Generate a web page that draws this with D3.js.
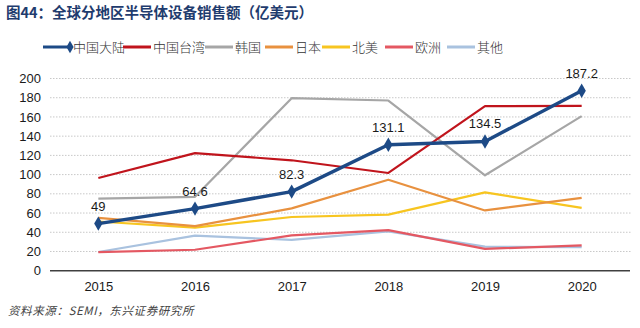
<!DOCTYPE html>
<html>
<head>
<meta charset="utf-8">
<script src="https://cdn.jsdelivr.net/npm/d3@7"></script>
<style>
  body { margin: 0; background: #fff; }
  text { font-family: Arial, "Liberation Sans", "Noto Sans CJK SC", sans-serif; }
</style>
</head>
<body>
<svg id="chart" width="640" height="328"></svg>
<script>
// data (亿美元)
const years = ['2015', '2016', '2017', '2018', '2019', '2020'];
const mainland = [49, 64.6, 82.3, 131.1, 134.5, 187.2];
const taiwan = [96.5, 122.3, 114.9, 101.7, 171.2, 171.5];
const korea = [75, 76.9, 179.5, 177.1, 99.3, 160.8];
const japan = [54.9, 46.3, 64.9, 94.7, 62.7, 75.8];
const northAmerica = [51.2, 44.9, 55.9, 58.3, 81.5, 65.3];
const europe = [19.4, 21.8, 36.7, 42.2, 22.7, 26.4];
const others = [19.5, 36.5, 32, 41, 25, 24.5];
const yTicks = [0, 20, 40, 60, 80, 100, 120, 140, 160, 180, 200];

const series = [
  { name: '中国大陆', values: mainland, color: '#1d4a86', width: 3.5, marker: true },
  { name: '中国台湾', values: taiwan, color: '#c0141c', width: 2.2 },
  { name: '韩国', values: korea, color: '#a6a6a6', width: 2.2 },
  { name: '日本', values: japan, color: '#e8913f', width: 2.2 },
  { name: '北美', values: northAmerica, color: '#f7c520', width: 2.2 },
  { name: '欧洲', values: europe, color: '#e45862', width: 2.2 },
  { name: '其他', values: others, color: '#a9c2df', width: 2.2 }
];

const svg = d3.select('#chart');
const margin = { left: 50, right: 10, top: 78.5, bottom: 57.3 };
const width = 640, height = 328;

const x = d3.scalePoint().domain(years)
  .range([margin.left, width - margin.right]).padding(0.5);
const y = d3.scaleLinear().domain([0, 200])
  .range([height - margin.bottom, margin.top]);

// title
svg.append('text')
  .attr('x', 6).attr('y', 18)
  .attr('font-size', 14.5).attr('font-weight', 'bold')
  .attr('fill', '#1f3c6e')
  .style('font-family', '"Noto Sans CJK SC", sans-serif')
  .text('图44：全球分地区半导体设备销售额（亿美元）');

// gridlines
svg.append('g')
  .selectAll('line')
  .data(yTicks.filter(d => d > 0))
  .join('line')
  .attr('x1', margin.left).attr('x2', width - margin.right + 1)
  .attr('y1', d => y(d)).attr('y2', d => y(d))
  .attr('stroke', '#c8c8c8').attr('stroke-width', 1)
  .attr('stroke-dasharray', '1.5,1.5');

// y axis labels
const yAxis = svg.append('g')
  .attr('transform', `translate(${margin.left - 9},0)`)
  .call(d3.axisLeft(y).tickValues(yTicks).tickSize(0).tickPadding(0));
yAxis.select('.domain').remove();
yAxis.selectAll('text').attr('font-size', 13).attr('fill', '#1a1a1a')
  .style('font-family', 'Arial, "Liberation Sans", sans-serif');

// x axis
const xAxis = svg.append('g')
  .attr('transform', `translate(0,${y(0)})`)
  .call(d3.axisBottom(x).tickSize(0).tickPadding(11));
xAxis.select('.domain').attr('stroke', '#404040').attr('stroke-width', 1.5)
  .attr('d', `M${margin.left},0H${width - margin.right}`);
xAxis.selectAll('text').attr('font-size', 13).attr('fill', '#1a1a1a')
  .style('font-family', 'Arial, "Liberation Sans", sans-serif');

// lines (draw from back to front so 中国大陆 sits on top)
const line = d3.line().x((d, i) => x(years[i])).y(d => y(d));
series.slice().reverse().forEach(s => {
  svg.append('path')
    .datum(s.values)
    .attr('fill', 'none')
    .attr('stroke', s.color)
    .attr('stroke-width', s.width)
    .attr('stroke-linejoin', 'round')
    .attr('d', line);
});

// markers and labels for 中国大陆
const diamond = d3.symbol().type(d3.symbolDiamond).size(60);
svg.append('g').selectAll('path')
  .data(mainland)
  .join('path')
  .attr('transform', (d, i) => `translate(${x(years[i])},${y(d)})`)
  .attr('d', diamond)
  .attr('fill', '#1d4a86');

svg.append('g').selectAll('text')
  .data(mainland)
  .join('text')
  .attr('x', (d, i) => x(years[i]))
  .attr('y', d => y(d) - 13)
  .attr('text-anchor', 'middle')
  .attr('font-size', 13).attr('fill', '#1a1a1a')
  .style('font-family', 'Arial, "Liberation Sans", sans-serif')
  .text(d => d);

// legend
const legendX = [43, 123, 205, 265, 322, 385, 447];
const legend = svg.append('g');
series.forEach((s, i) => {
  const g = legend.append('g').attr('transform', `translate(${legendX[i]},47)`);
  g.append('line')
    .attr('x1', 0).attr('x2', 28).attr('y1', 0).attr('y2', 0)
    .attr('stroke', s.color).attr('stroke-width', 3);
  if (s.marker) {
    g.append('path').attr('transform', 'translate(27,0)')
      .attr('d', d3.symbol().type(d3.symbolDiamond).size(45)).attr('fill', s.color);
  }
  g.append('text')
    .attr('x', 30).attr('y', 5)
    .attr('font-size', 13).attr('font-weight', 300).attr('fill', '#333')
    .style('font-family', '"Noto Sans CJK SC", sans-serif')
    .text(s.name);
});

// source
svg.append('text')
  .attr('x', 8).attr('y', 315)
  .attr('font-size', 11.5).attr('fill', '#444')
  .attr('font-style', 'italic')
  .attr('letter-spacing', 0.6)
  .style('font-family', '"Noto Sans CJK SC", sans-serif')
  .text('资料来源：SEMI，东兴证券研究所');
</script>
</body>
</html>
